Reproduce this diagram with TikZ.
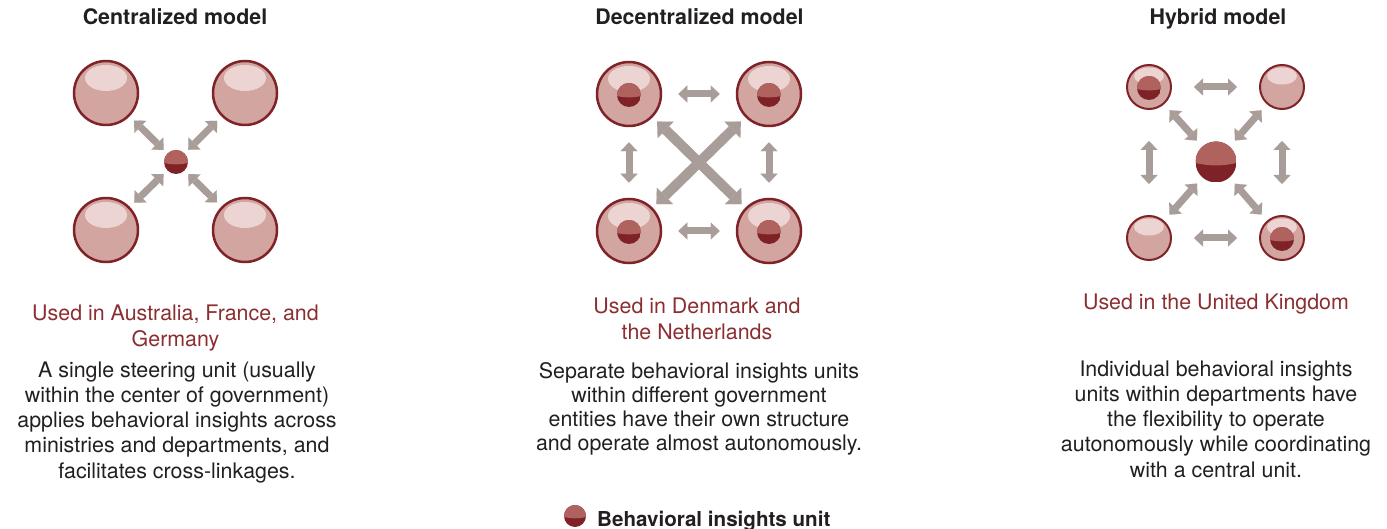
\documentclass[tikz,border=0pt]{standalone}
\usepackage{fontspec}
\setmainfont{TeX Gyre Heros}
\usepackage{tikz}
\usetikzlibrary{arrows.meta}
\definecolor{orbfill}{HTML}{D3A5A0}
\definecolor{orbline}{HTML}{7F2329}
\definecolor{hilite}{HTML}{ECD4D2}
\definecolor{unitlight}{HTML}{B0625E}
\definecolor{unitdark}{HTML}{7E2228}
\definecolor{arrowgrey}{HTML}{A89D98}
\definecolor{capred}{HTML}{8B2E32}
\definecolor{ink}{HTML}{231F20}
\tikzset{
  bigorb/.style={ draw=orbline, line width=2.5pt, circle, fill=orbfill, minimum size=64pt, inner sep=0pt,
    path picture={\fill[hilite] ([yshift=15pt]path picture bounding box.center) ellipse [x radius=21pt, y radius=13pt];} }
}
\tikzset{
  smallorb/.style={ draw=orbline, line width=2pt, circle, fill=orbfill, minimum size=44pt, inner sep=0pt,
    path picture={\fill[hilite] ([yshift=11pt]path picture bounding box.center) ellipse [x radius=15pt, y radius=8.5pt];} }
}
\tikzset{
  unit/.style={ circle, inner sep=0pt, minimum size=#1,
    path picture={%
      % dark lower part first, then the lighter cap on top
      \fill[unitdark] (path picture bounding box.south west) rectangle (path picture bounding box.north east);
      \fill[unitlight] ([yshift=-1pt]path picture bounding box.west) to[bend right=12]
        ([yshift=-1pt]path picture bounding box.east) -- (path picture bounding box.north east)
        -- (path picture bounding box.north west) -- cycle;} },
  unit/.default=24pt
}
\tikzset{
  twoway/.style={ draw=arrowgrey, line width=7pt, >={Triangle[length=9pt, width=17pt, line width=0.1pt]}, <-> }
}
\tikzset{
  bigtwoway/.style={ draw=arrowgrey, line width=10pt, >={Triangle[length=12pt, width=23pt, line width=0.1pt]}, <-> }
}
\tikzset{
  heading/.style={ font=\fontsize{21.4}{25}\selectfont\bfseries, text=ink, anchor=base, inner sep=0pt }
}
\tikzset{
  usedin/.style={ font=\fontsize{21.4}{26}\selectfont, text=capred, align=center, anchor=base, inner sep=0pt }
}
\tikzset{
  blurb/.style={ font=\fontsize{21.4}{25.2}\selectfont, text=ink, align=center, anchor=base, inner sep=0pt }
}

\begin{document}
\begin{tikzpicture}[y=-1pt, x=1pt]
      \useasboundingbox (0, 0) rectangle (1387, 529);

      % centralized (text nodes sit on their last baseline)
      \node[heading] (cTitle) at (175, 25) {Centralized model};
      \node[bigorb] (cTL) at (106, 93) {};
      \node[bigorb] (cTR) at (245, 93) {};
      \node[bigorb] (cBL) at (106, 230) {};
      \node[bigorb] (cBR) at (245, 230) {};
      \node[unit] (cHub) at (176, 162) {};
      \draw[twoway, shorten <=6pt, shorten >=5pt] (cTL) -- (cHub);
      \draw[twoway, shorten <=6pt, shorten >=5pt] (cTR) -- (cHub);
      \draw[twoway, shorten <=6pt, shorten >=5pt] (cBL) -- (cHub);
      \draw[twoway, shorten <=6pt, shorten >=5pt] (cBR) -- (cHub);
      \node[usedin] (cUsed) at (175.5, 347) {Used in Australia, France, and\\Germany};
      \node[blurb] (cText) at (177, 478) {A single steering unit (usually\\within the center of government)\\applies behavioral insights across\\ministries and departments, and\\facilitates cross-linkages.};

      % decentralized
      \node[heading] (dTitle) at (699.5, 25) {Decentralized model};
      \node[bigorb] (dTL) at (629, 94) {};
      \node[bigorb] (dTR) at (769, 94) {};
      \node[bigorb] (dBL) at (629, 231) {};
      \node[bigorb] (dBR) at (769, 231) {};
      \node[unit] (dTLu) at (629, 95) {};
      \node[unit] (dTRu) at (769, 95) {};
      \node[unit] (dBLu) at (629, 232) {};
      \node[unit] (dBRu) at (769, 232) {};
      \draw[twoway, shorten <=16pt, shorten >=16pt] (dTL) -- (dTR);
      \draw[twoway, shorten <=16pt, shorten >=16pt] (dBL) -- (dBR);
      \draw[twoway, shorten <=15pt, shorten >=15pt] (dTL) -- (dBL);
      \draw[twoway, shorten <=15pt, shorten >=15pt] (dTR) -- (dBR);
      \draw[bigtwoway, shorten <=6pt, shorten >=5pt] (dTL) -- (dBR);
      \draw[bigtwoway, shorten <=6pt, shorten >=5pt] (dTR) -- (dBL);
      \node[usedin] (dUsed) at (697, 340) {Used in Denmark and\\the Netherlands};
      \node[blurb, font=\fontsize{21.4}{24}\selectfont] (dText) at (699, 450) {Separate behavioral insights units\\within different government\\entities have their own structure\\and operate almost autonomously.};

      % hybrid
      \node[heading] (hTitle) at (1218, 25) {Hybrid model};
      \node[smallorb] (hTL) at (1149, 87) {};
      \node[smallorb] (hTR) at (1282, 87) {};
      \node[smallorb] (hBL) at (1149, 238) {};
      \node[smallorb] (hBR) at (1282, 238) {};
      \node[unit] (hTLu) at (1149, 88) {};
      \node[unit] (hBRu) at (1282, 239) {};
      \node[unit=41pt] (hHub) at (1216, 162) {};
      \draw[twoway, shorten <=22pt, shorten >=22pt] (hTL) -- (hTR);
      \draw[twoway, shorten <=22pt, shorten >=22pt] (hBL) -- (hBR);
      \draw[twoway, shorten <=31pt, shorten >=31pt] (hTL) -- (hBL);
      \draw[twoway, shorten <=31pt, shorten >=31pt] (hTR) -- (hBR);
      \draw[twoway, shorten <=8pt, shorten >=8pt] (hTL) -- (hHub);
      \draw[twoway, shorten <=8pt, shorten >=8pt] (hTR) -- (hHub);
      \draw[twoway, shorten <=8pt, shorten >=8pt] (hBL) -- (hHub);
      \draw[twoway, shorten <=8pt, shorten >=8pt] (hBR) -- (hHub);
      \node[usedin] (hUsed) at (1216, 310) {Used in the United Kingdom};
      \node[blurb] (hText) at (1216, 477) {Individual behavioral insights\\units within departments have\\the flexibility to operate\\autonomously while coordinating\\with a central unit.};

      % key
      \node[unit=22pt] (key) at (575, 516) {};
      \node[heading, anchor=base west, font=\fontsize{20.6}{25}\selectfont\bfseries] (keyText) at (597, 526) {Behavioral insights unit};
    \end{tikzpicture}
\end{document}
